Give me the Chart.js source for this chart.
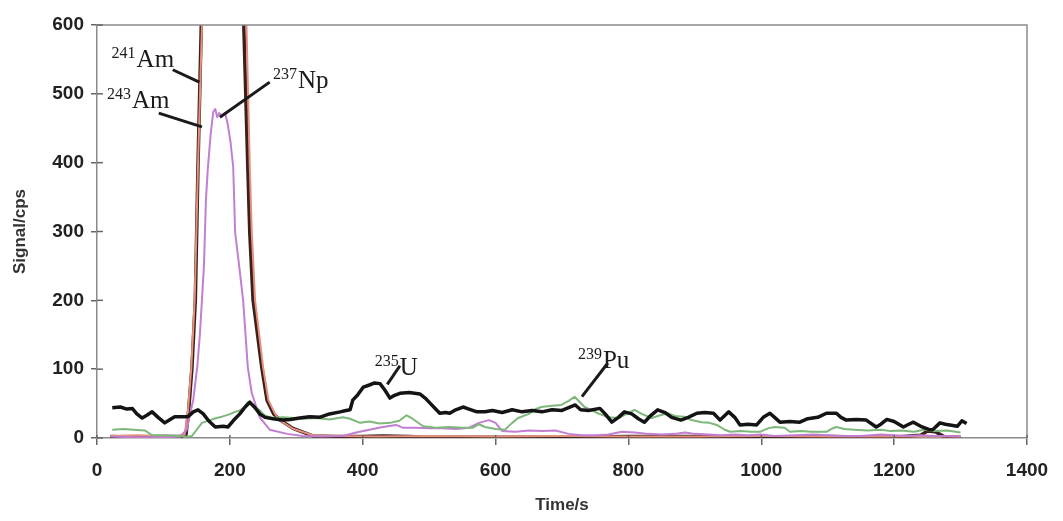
<!DOCTYPE html>
<html>
<head>
<meta charset="utf-8">
<script src="https://cdn.jsdelivr.net/npm/chart.js@4.4.1/dist/chart.umd.min.js"></script>
<style>
  html, body { margin: 0; padding: 0; background: #fff; }
  #wrap { width: 1063px; height: 521px; }
</style>
</head>
<body>
<div id="wrap"><canvas id="chart" width="1063" height="521"></canvas></div>
<script>
// x ticks / y ticks
const xTicks = [0, 200, 400, 600, 800, 1000, 1200, 1400];
const yTicks = [0, 100, 200, 300, 400, 500, 600];

// 241Am (dark), peak runs off the top of the plot
const am241Time = [20, 60, 100, 125, 134, 138, 143, 148, 152, 157, 165, 180, 195, 210, 221, 227, 230, 235, 248, 256, 266, 276, 295, 325, 360, 400, 430, 470, 500, 560, 620, 700, 800, 900, 1000, 1100, 1200, 1240, 1250, 1262, 1275, 1300];
const am241Vals = [2, 1, 2, 2, 5, 40, 103, 200, 394, 600, 900, 1400, 1500, 1100, 600, 394, 298, 200, 103, 55, 35, 26, 14, 3, 2, 2, 3, 2, 1, 1, 1, 1, 2, 2, 1, 2, 1, 4, 10, 9, 2, 1];

// 243Am (orange)
const am243Time = [20, 60, 100, 125, 132, 137, 142, 147, 152, 158, 166, 180, 195, 212, 225, 230, 233, 238, 250, 258, 268, 278, 296, 325, 360, 420, 500, 600, 700, 800, 900, 1000, 1100, 1200, 1300];
const am243Vals = [3, 4, 3, 2, 5, 40, 103, 200, 394, 600, 900, 1400, 1500, 1100, 600, 394, 298, 200, 103, 55, 35, 24, 13, 4, 3, 2, 3, 2, 3, 2, 2, 3, 2, 2, 2];

// 237Np (violet)
const npTime = [20, 60, 100, 125, 135, 145, 151, 155, 161, 164, 167, 171, 175, 178, 181, 184, 188, 193, 197, 201, 205, 208, 214, 220, 227, 233, 245, 260, 286, 310, 340, 370, 390, 410, 430, 450, 460, 480, 500, 520, 540, 560, 575, 590, 600, 610, 630, 650, 670, 690, 710, 730, 750, 770, 790, 810, 830, 850, 870, 885, 900, 920, 940, 960, 980, 1000, 1020, 1050, 1080, 1100, 1120, 1150, 1180, 1200, 1220, 1240, 1260, 1280, 1300];
const npVals = [2, 1, 1, 2, 12, 56, 104, 152, 250, 346, 394, 440, 474, 478, 466, 472, 468, 472, 455, 430, 394, 298, 250, 200, 103, 65, 30, 12, 6, 3, 2, 3, 8, 12, 16, 19, 15, 15, 14, 14, 13, 15, 22, 26, 22, 10, 9, 11, 10, 11, 6, 4, 4, 5, 9, 8, 6, 5, 6, 8, 6, 5, 4, 5, 4, 5, 3, 4, 5, 4, 3, 3, 5, 4, 3, 4, 3, 3, 2];

// 235U (black)
const uTime = [23, 35, 45, 53, 60, 68, 75, 83, 92, 102, 110, 117, 128, 137, 145, 152, 160, 168, 178, 190, 197, 205, 215, 223, 230, 238, 245, 253, 265, 279, 291, 305, 320, 335, 350, 366, 375, 381, 385, 392, 401, 410, 418, 426, 433, 441, 448, 456, 470, 486, 494, 501, 508, 516, 525, 531, 540, 551, 560, 572, 584, 595, 610, 625, 640, 655, 670, 685, 700, 710, 720, 728, 740, 757, 765, 775, 785, 794, 805, 815, 824, 834, 844, 855, 865, 879, 890, 903, 915, 928, 938, 951, 960, 968, 980, 993, 1003, 1013, 1020, 1028, 1043, 1058, 1070, 1085, 1098, 1113, 1120, 1128, 1143, 1158, 1173, 1180, 1189, 1200, 1214, 1222, 1229, 1240, 1253, 1258, 1269, 1277, 1284, 1295, 1302, 1309];
const uVals = [44, 45, 42, 43, 35, 29, 33, 38, 30, 22, 27, 31, 31, 31, 38, 41, 35, 25, 16, 17, 16, 25, 35, 45, 52, 44, 35, 30, 28, 26, 27, 29, 31, 30, 35, 38, 40, 41, 55, 62, 74, 77, 80, 79, 70, 58, 62, 65, 66, 64, 58, 51, 44, 36, 37, 36, 41, 45, 42, 38, 38, 40, 37, 41, 38, 40, 38, 41, 40, 44, 48, 41, 40, 43, 35, 23, 30, 38, 35, 28, 23, 33, 41, 37, 30, 26, 30, 36, 37, 36, 26, 38, 30, 19, 20, 19, 30, 36, 30, 23, 24, 23, 28, 30, 36, 36, 30, 26, 27, 26, 16, 20, 27, 24, 16, 20, 23, 17, 12, 12, 22, 20, 19, 17, 25, 21];

// 239Pu (green)
const puTime = [23, 40, 55, 72, 83, 100, 122, 135, 143, 150, 158, 170, 180, 188, 198, 208, 215, 222, 227, 235, 244, 252, 263, 280, 298, 310, 330, 350, 370, 381, 396, 410, 425, 441, 455, 466, 475, 491, 510, 530, 550, 566, 575, 584, 600, 614, 625, 634, 650, 660, 669, 685, 699, 710, 719, 727, 734, 745, 754, 770, 785, 800, 809, 820, 835, 848, 859, 870, 884, 895, 910, 922, 933, 945, 953, 970, 985, 998, 1010, 1020, 1035, 1043, 1060, 1075, 1098, 1105, 1113, 1125, 1140, 1160, 1180, 1195, 1210, 1230, 1245, 1260, 1280, 1300];
const puVals = [12, 13, 12, 11, 4, 4, 3, 2, 3, 12, 22, 26, 29, 31, 34, 38, 40, 45, 52, 47, 41, 33, 29, 30, 29, 28, 29, 27, 30, 28, 22, 24, 21, 22, 25, 33, 28, 17, 15, 16, 15, 15, 20, 16, 13, 12, 22, 29, 35, 42, 45, 47, 48, 54, 60, 52, 45, 40, 36, 30, 29, 36, 41, 35, 29, 33, 36, 32, 31, 26, 23, 22, 19, 12, 9, 10, 9, 9, 14, 16, 15, 9, 10, 9, 9, 13, 16, 13, 12, 11, 12, 10, 11, 9, 12, 10, 11, 8];

// isotope labels: [superscript, symbol, label t, label v, leader from t,v, leader to t,v]
const labels = [
  ['241', 'Am', 22, 539, 114, 535, 154, 517],
  ['243', 'Am', 15, 479, 93, 472, 158, 452],
  ['237', 'Np', 265, 508, 260, 517, 185, 466],
  ['235', 'U', 418, 92, 456, 105, 437, 78],
  ['239', 'Pu', 724, 102, 769, 109, 730, 60]
];

const pts = (t, v) => t.map((x, i) => ({ x: x, y: v[i] }));

const frame = {
  id: 'frame',
  afterDraw(chart) {
    const { ctx, chartArea: a, scales: { x, y } } = chart;
    ctx.save();
    ctx.strokeStyle = '#8a8a8a';
    ctx.lineWidth = 1.5;
    ctx.beginPath();
    ctx.moveTo(a.left, a.top); ctx.lineTo(a.right, a.top); ctx.lineTo(a.right, a.bottom);
    ctx.stroke();
    // inner half of the crossing tick marks
    ctx.strokeStyle = '#666';
    ctx.lineWidth = 1.5;
    yTicks.forEach(v => {
      const py = y.getPixelForValue(v);
      ctx.beginPath(); ctx.moveTo(a.left, py); ctx.lineTo(a.left + 6, py); ctx.stroke();
    });
    xTicks.forEach(v => {
      const px = x.getPixelForValue(v);
      ctx.beginPath(); ctx.moveTo(px, a.bottom); ctx.lineTo(px, a.bottom - 3); ctx.stroke();
    });
    // isotope labels with leader lines
    ctx.fillStyle = '#1a1a1a';
    ctx.strokeStyle = '#1a1a1a';
    ctx.lineWidth = 3;
    ctx.textBaseline = 'alphabetic';
    labels.forEach(l => {
      const lx = x.getPixelForValue(l[2]), ly = y.getPixelForValue(l[3]);
      ctx.font = '16px "Liberation Serif", "Times New Roman", serif';
      ctx.fillText(l[0], lx, ly - 9);
      const w = ctx.measureText(l[0]).width;
      ctx.font = '25px "Liberation Serif", "Times New Roman", serif';
      ctx.fillText(l[1], lx + w + 1, ly);
      ctx.beginPath();
      ctx.moveTo(x.getPixelForValue(l[4]), y.getPixelForValue(l[5]));
      ctx.lineTo(x.getPixelForValue(l[6]), y.getPixelForValue(l[7]));
      ctx.stroke();
    });
    ctx.restore();
  }
};

const axisFont = { family: '"Liberation Sans", Arial, sans-serif', size: 19, weight: 'bold' };
const titleFont = { family: '"Liberation Sans", Arial, sans-serif', size: 17, weight: 'bold' };

new Chart(document.getElementById('chart').getContext('2d'), {
  type: 'line',
  data: {
    datasets: [
      { label: '235U', data: pts(uTime, uVals), borderColor: '#141414', borderWidth: 3.5, order: 1 },
      { label: '239Pu', data: pts(puTime, puVals), borderColor: '#7db87a', borderWidth: 2, order: 2 },
      { label: '237Np', data: pts(npTime, npVals), borderColor: '#c27fd2', borderWidth: 2, order: 3 },
      { label: '243Am', data: pts(am243Time, am243Vals), borderColor: '#e5907c', borderWidth: 2, order: 4 },
      { label: '241Am', data: pts(am241Time, am241Vals), borderColor: '#3a1f1b', borderWidth: 3.5, order: 5 }
    ]
  },
  options: {
    responsive: false,
    devicePixelRatio: 1,
    animation: false,
    layout: { padding: { top: 25, right: 36, left: 0, bottom: 0 } },
    elements: { point: { radius: 0 }, line: { tension: 0, borderJoinStyle: 'round' } },
    plugins: { legend: { display: false }, tooltip: { enabled: false } },
    scales: {
      x: {
        type: 'linear', min: 0, max: 1400,
        afterBuildTicks: s => { s.ticks = xTicks.map(v => ({ value: v })); },
        afterFit: s => { s.height = 83; },
        ticks: { color: '#222', font: axisFont, padding: 14, maxRotation: 0, callback: v => String(v) },
        grid: { drawOnChartArea: false, tickLength: 7, color: '#666', lineWidth: 1.5 },
        border: { color: '#8a8a8a', width: 1.5 },
        title: { display: true, text: 'Time/s', color: '#333', font: titleFont, padding: { top: 0, bottom: 5 } }
      },
      y: {
        min: 0, max: 600,
        afterBuildTicks: s => { s.ticks = yTicks.map(v => ({ value: v })); },
        afterFit: s => { s.width = 97; },
        ticks: { color: '#222', font: axisFont, padding: 7, callback: v => String(v) },
        grid: { drawOnChartArea: false, tickLength: 6, color: '#666', lineWidth: 1.5 },
        border: { color: '#8a8a8a', width: 1.5 },
        title: { display: true, text: 'Signal/cps', color: '#333', font: titleFont, padding: { top: 10, bottom: 0 } }
      }
    }
  },
  plugins: [frame]
});
</script>
</body>
</html>
